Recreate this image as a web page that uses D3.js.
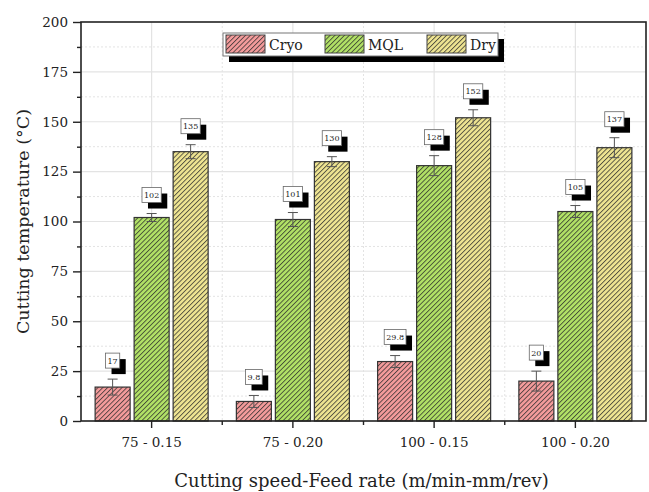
<!DOCTYPE html>
<html>
<head>
<meta charset="utf-8">
<script src="https://cdnjs.cloudflare.com/ajax/libs/d3/7.8.5/d3.min.js"></script>
<style>
body{margin:0;background:#fff;}
text{font-family:"DejaVu Serif",serif;fill:#222;}
</style>
</head>
<body>
<div id="chart"></div>
<script>
// values
var categories = ["75 - 0.15", "75 - 0.20", "100 - 0.15", "100 - 0.20"];
var seriesNames = ["Cryo", "MQL", "Dry"];
var cryoValues = [17, 9.8, 29.8, 20];
var mqlValues = [102, 101, 128, 105];
var dryValues = [135, 130, 152, 137];
var cryoErrors = [4, 3, 3, 5];
var mqlErrors = [2, 3.5, 5, 3];
var dryErrors = [3.5, 2.5, 4, 5];
var yTicks = [0, 25, 50, 75, 100, 125, 150, 175, 200];
var yMinorTicks = [12.5, 37.5, 62.5, 87.5, 112.5, 137.5, 162.5, 187.5];

var BarChart = function(view, plotWidth, plotHeight){
	const s = this;
	const
		LEFT = 81, RIGHT = 646, TOP = 22, BOTTOM = 421,
		FONT = "'DejaVu Serif', serif",
		AXIS_COLOR = "#222",
		GRID_COLOR = "#e3e3e3",
		COLORS = {"Cryo": "#f59c9c", "MQL": "#b2e266", "Dry": "#efe592"};

	var svg, x, xInner, y, rows;

	s.init = function(){
		rows = categories.map(function(c, i){
			return {cat: c, bars: [
				{name: "Cryo", value: cryoValues[i], err: cryoErrors[i]},
				{name: "MQL", value: mqlValues[i], err: mqlErrors[i]},
				{name: "Dry", value: dryValues[i], err: dryErrors[i]}
			]};
		});
		s.putToView();
		s.makeScales();
		s.drawGrid();
		s.drawBars();
		s.drawAxes();
		s.drawLabels();
		s.drawLegend();
	}

	s.putToView = function(){
		svg = d3.select(view).append("svg")
			.attr("width", plotWidth)
			.attr("height", plotHeight)
			.style("font-family", FONT);
		var defs = svg.append("defs");
		seriesNames.forEach(function(n){
			var p = defs.append("pattern")
				.attr("id", "hatch-" + n)
				.attr("patternUnits", "userSpaceOnUse")
				.attr("width", 3.4).attr("height", 10)
				.attr("patternTransform", "rotate(45)");
			p.append("rect").attr("width", 3.4).attr("height", 10).attr("fill", COLORS[n]);
			p.append("line").attr("x1", 0.5).attr("x2", 0.5).attr("y1", 0).attr("y2", 10)
				.attr("stroke", "#2a2a2a").attr("stroke-width", 0.8);
		});
	}

	s.makeScales = function(){
		x = d3.scaleBand().domain(categories).range([LEFT, RIGHT]).padding(0);
		xInner = d3.scaleBand().domain(seriesNames).range([0, x.bandwidth()])
			.paddingInner(0.1026).paddingOuter(0.362);
		y = d3.scaleLinear().domain([0, 200]).range([BOTTOM, TOP]);
	}

	s.drawGrid = function(){
		var g = svg.append("g").attr("class", "grid");
		g.selectAll(".hmaj").data(yTicks.slice(1, -1)).enter().append("line")
			.attr("x1", LEFT).attr("x2", RIGHT)
			.attr("y1", function(d){ return y(d); }).attr("y2", function(d){ return y(d); })
			.attr("stroke", GRID_COLOR).attr("stroke-width", 1.2);
		g.selectAll(".hmin").data(yMinorTicks).enter().append("line")
			.attr("x1", LEFT).attr("x2", RIGHT)
			.attr("y1", function(d){ return y(d); }).attr("y2", function(d){ return y(d); })
			.attr("stroke", GRID_COLOR).attr("stroke-width", 1).attr("stroke-dasharray", "2,2");
		g.selectAll(".vmaj").data(categories).enter().append("line")
			.attr("x1", function(d){ return x(d) + x.bandwidth() / 2; })
			.attr("x2", function(d){ return x(d) + x.bandwidth() / 2; })
			.attr("y1", TOP).attr("y2", BOTTOM)
			.attr("stroke", GRID_COLOR).attr("stroke-width", 1.2);
		g.selectAll(".vmin").data(categories.slice(1)).enter().append("line")
			.attr("x1", function(d){ return x(d); }).attr("x2", function(d){ return x(d); })
			.attr("y1", TOP).attr("y2", BOTTOM)
			.attr("stroke", GRID_COLOR).attr("stroke-width", 1).attr("stroke-dasharray", "2,2");
	}

	s.drawBars = function(){
		var groups = svg.selectAll(".group").data(rows).enter().append("g")
			.attr("class", "group")
			.attr("transform", function(d){ return "translate(" + x(d.cat) + ",0)"; });
		groups.selectAll("rect").data(function(d){ return d.bars; }).enter().append("rect")
			.attr("x", function(d){ return xInner(d.name); })
			.attr("y", function(d){ return y(d.value); })
			.attr("width", xInner.bandwidth())
			.attr("height", function(d){ return y(0) - y(d.value); })
			.style("fill", function(d){ return "url(#hatch-" + d.name + ")"; })
			.attr("stroke", "#333").attr("stroke-width", 1.2);
		// error bars
		var eb = groups.selectAll(".err").data(function(d){ return d.bars; }).enter().append("g")
			.attr("class", "err")
			.attr("stroke", "#555").attr("stroke-width", 1);
		var cx = function(d){ return xInner(d.name) + xInner.bandwidth() / 2; };
		eb.append("line")
			.attr("x1", cx).attr("x2", cx)
			.attr("y1", function(d){ return y(d.value + d.err); })
			.attr("y2", function(d){ return y(d.value - d.err); });
		eb.append("line")
			.attr("x1", function(d){ return cx(d) - 5; }).attr("x2", function(d){ return cx(d) + 5; })
			.attr("y1", function(d){ return y(d.value + d.err); })
			.attr("y2", function(d){ return y(d.value + d.err); });
		eb.append("line")
			.attr("x1", function(d){ return cx(d) - 5; }).attr("x2", function(d){ return cx(d) + 5; })
			.attr("y1", function(d){ return y(d.value - d.err); })
			.attr("y2", function(d){ return y(d.value - d.err); });
	}

	s.drawAxes = function(){
		svg.append("rect")
			.attr("x", LEFT).attr("y", TOP)
			.attr("width", RIGHT - LEFT).attr("height", BOTTOM - TOP)
			.attr("fill", "none").attr("stroke", AXIS_COLOR).attr("stroke-width", 1.6);

		svg.append("g").attr("class", "axis")
			.attr("transform", "translate(" + LEFT + ",0)")
			.call(d3.axisLeft(y).tickValues(yTicks).tickSize(8).tickSizeOuter(0).tickPadding(5));
		svg.append("g").attr("class", "axis minor")
			.attr("transform", "translate(" + LEFT + ",0)")
			.call(d3.axisLeft(y).tickValues(yMinorTicks).tickSize(4).tickSizeOuter(0).tickFormat(""));

		svg.append("g").attr("class", "axis")
			.attr("transform", "translate(0," + BOTTOM + ")")
			.call(d3.axisBottom(x).tickSize(7).tickSizeOuter(0).tickPadding(9));
		var xMinor = svg.append("g").attr("class", "axis minor")
			.attr("transform", "translate(0," + BOTTOM + ")");
		xMinor.selectAll("line").data(categories.slice(1)).enter().append("line")
			.attr("x1", function(d){ return x(d); }).attr("x2", function(d){ return x(d); })
			.attr("y1", 0).attr("y2", 4)
			.attr("stroke", AXIS_COLOR).attr("stroke-width", 1.4);

		svg.selectAll(".axis .domain").remove();
		svg.selectAll(".axis").attr("font-family", null).attr("font-size", null);
		svg.selectAll(".axis .tick line").attr("stroke", AXIS_COLOR).attr("stroke-width", 1.4);
		svg.selectAll(".axis text").style("font-family", FONT)
			.style("font-size", "13.5px").attr("fill", "#222");

		svg.append("text")
			.attr("transform", "translate(29," + ((TOP + BOTTOM) / 2) + ") rotate(-90)")
			.attr("text-anchor", "middle")
			.style("font-size", "17.5px")
			.text("Cutting temperature (°C)");
		svg.append("text")
			.attr("x", (LEFT + RIGHT) / 2 - 2).attr("y", 487)
			.attr("text-anchor", "middle")
			.style("font-size", "18px")
			.text("Cutting speed-Feed rate (m/min-mm/rev)");
	}

	s.drawLabels = function(){
		var groups = svg.selectAll(".group");
		var lab = groups.selectAll(".lab").data(function(d){ return d.bars; }).enter().append("g")
			.attr("class", "lab")
			.attr("transform", function(d){
				return "translate(" + (xInner(d.name) + xInner.bandwidth() / 2) + "," + (y(d.value + d.err) - 11) + ")";
			});
		lab.each(function(d){
			var g = d3.select(this);
			var t = g.append("text").attr("text-anchor", "middle").attr("y", -4.5)
				.style("font-size", "8px").text(d.value);
			var w = t.node().getBBox().width + 4, h = 15;
			g.insert("rect", "text").attr("x", -w / 2 + 6).attr("y", -h + 6)
				.attr("width", w).attr("height", h).attr("fill", "#000");
			g.insert("rect", "text").attr("x", -w / 2).attr("y", -h)
				.attr("width", w).attr("height", h)
				.attr("fill", "#fff").attr("stroke", "#666").attr("stroke-width", 0.8);
		});
	}

	s.drawLegend = function(){
		var lg = svg.append("g").attr("class", "legend");
		lg.append("rect").attr("x", 229).attr("y", 39).attr("width", 275).attr("height", 23).attr("fill", "#000");
		lg.append("rect").attr("x", 223).attr("y", 33).attr("width", 275).attr("height", 23)
			.attr("fill", "#fff").attr("stroke", "#777").attr("stroke-width", 1);
		var item = lg.selectAll(".item").data(seriesNames).enter().append("g")
			.attr("class", "item")
			.attr("transform", function(d, i){ return "translate(" + [226, 325, 427][i] + ",35)"; });
		item.append("rect").attr("width", 39).attr("height", 18)
			.style("fill", function(d){ return "url(#hatch-" + d + ")"; })
			.attr("stroke", "#444").attr("stroke-width", 1);
		item.append("text").attr("x", 43).attr("y", 14.5)
			.style("font-size", "14px").text(function(d){ return d; });
	}
}

new BarChart("#chart", 649, 492).init();
</script>
</body>
</html>
